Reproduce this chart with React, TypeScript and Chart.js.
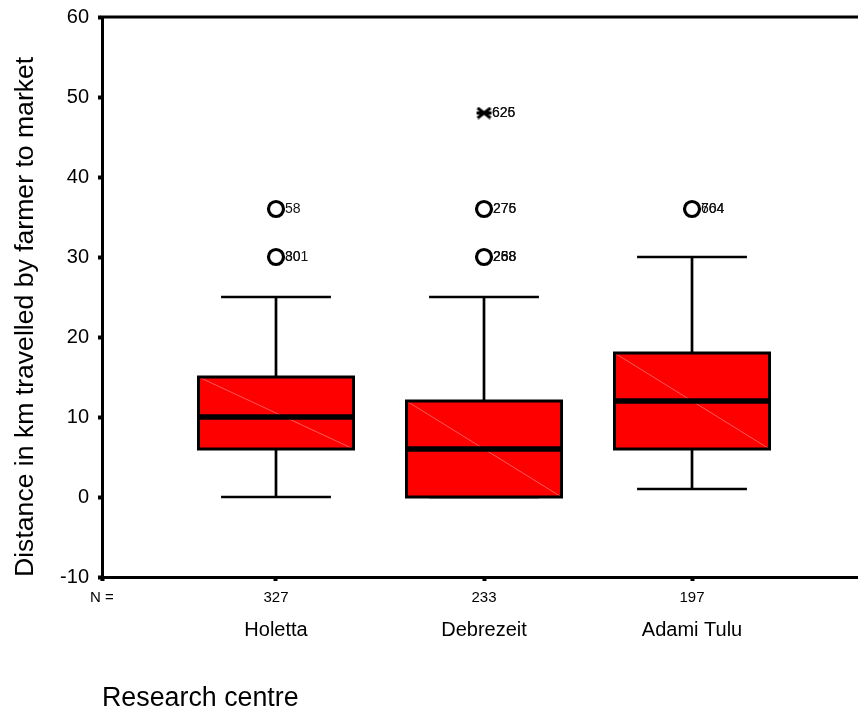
import React, { useEffect, useRef } from "react";
import { Chart, registerables } from "chart.js";

Chart.register(...registerables);

const categories = ["Holetta", "Debrezeit", "Adami Tulu"];
const counts = [327, 233, 197];
const catPos = [1, 2, 3];
const q1 = [6, 0, 6];
const medians = [10, 6, 12];
const q3 = [15, 12, 18];
const whiskerLow = [0, 0, 1];
const whiskerHigh = [25, 25, 30];

const outlierCat = [1, 1, 2, 2, 3];
const outlierVal = [36, 30, 36, 30, 36];
const outlierIds = [["58"], ["301", "80"], ["275", "276"], ["288", "268", "258"], ["664", "704"]];

const extremeCat = [2];
const extremeVal = [48];
const extremeIds = [["626", "625"]];

const yMin = -10;
const yMax = 60;
const yStep = 10;

const FONT = "'Liberation Sans', Arial, Helvetica, sans-serif";

function makeStar(): HTMLCanvasElement {
  const c = document.createElement("canvas");
  c.width = 17;
  c.height = 13;
  const g = c.getContext("2d")!;
  g.strokeStyle = "#000";
  g.lineWidth = 3;
  g.lineCap = "butt";
  g.beginPath();
  g.moveTo(2, 1.5);
  g.lineTo(15, 11.5);
  g.moveTo(2, 11.5);
  g.lineTo(15, 1.5);
  g.moveTo(1, 6.5);
  g.lineTo(16, 6.5);
  g.stroke();
  return c;
}

const boxPlugin = {
  id: "boxPlugin",
  beforeDatasetsDraw(chart: any) {
    const { ctx, scales, chartArea } = chart;
    const x = scales.x;
    const y = scales.y;
    const boxHalf = 0.3726;
    const capHalf = 0.264;
    ctx.save();
    ctx.strokeStyle = "#000";
    ctx.lineWidth = 3;
    ctx.beginPath();
    ctx.moveTo(chartArea.left - 1.5, chartArea.top);
    ctx.lineTo(chartArea.right, chartArea.top);
    ctx.stroke();
    for (let i = 0; i < categories.length; i++) {
      const c = catPos[i];
      const cx = x.getPixelForValue(c);
      const bl = x.getPixelForValue(c - boxHalf);
      const br = x.getPixelForValue(c + boxHalf);
      const cl = x.getPixelForValue(c - capHalf);
      const cr = x.getPixelForValue(c + capHalf);
      const yq1 = y.getPixelForValue(q1[i]);
      const yq3 = y.getPixelForValue(q3[i]);
      const ymed = y.getPixelForValue(medians[i]);
      const ylo = y.getPixelForValue(whiskerLow[i]);
      const yhi = y.getPixelForValue(whiskerHigh[i]);
      ctx.strokeStyle = "#000";
      ctx.lineWidth = 2.7;
      ctx.beginPath();
      ctx.moveTo(cx, yhi);
      ctx.lineTo(cx, yq3);
      ctx.moveTo(cx, ylo);
      ctx.lineTo(cx, yq1);
      ctx.moveTo(cl, yhi);
      ctx.lineTo(cr, yhi);
      ctx.moveTo(cl, ylo);
      ctx.lineTo(cr, ylo);
      ctx.stroke();
      ctx.fillStyle = "#ff0000";
      ctx.fillRect(bl, yq3, br - bl, yq1 - yq3);
      ctx.strokeStyle = "rgba(255,140,140,0.8)";
      ctx.lineWidth = 0.8;
      ctx.beginPath();
      ctx.moveTo(bl, yq3);
      ctx.lineTo(br, yq1);
      ctx.stroke();
      ctx.strokeStyle = "#000";
      ctx.lineWidth = 3;
      ctx.strokeRect(bl, yq3, br - bl, yq1 - yq3);
      ctx.lineWidth = 5.5;
      ctx.beginPath();
      ctx.moveTo(bl, ymed);
      ctx.lineTo(br, ymed);
      ctx.stroke();
    }
    ctx.restore();
  },
  afterDatasetsDraw(chart: any) {
    const { ctx, scales } = chart;
    const x = scales.x;
    const y = scales.y;
    ctx.save();
    ctx.font = `14px ${FONT}`;
    ctx.fillStyle = "#111";
    ctx.textAlign = "left";
    ctx.textBaseline = "middle";
    outlierCat.forEach((c, i) => {
      const px = x.getPixelForValue(c) + 9;
      const py = y.getPixelForValue(outlierVal[i]);
      outlierIds[i].forEach((t) => ctx.fillText(t, px, py));
    });
    extremeCat.forEach((c, i) => {
      const px = x.getPixelForValue(c) + 8;
      const py = y.getPixelForValue(extremeVal[i]);
      extremeIds[i].forEach((t) => ctx.fillText(t, px, py));
    });
    ctx.restore();
  },
};

export default function App() {
  const ref = useRef<HTMLCanvasElement>(null);
  useEffect(() => {
    document.body.style.margin = "0";
    const xMin = 0.1635;
    const xMax = 3.798;
    const chart = new Chart(ref.current!, {
      type: "scatter",
      data: {
        datasets: [
          {
            label: "Outliers",
            data: outlierCat.map((c, i) => ({ x: c, y: outlierVal[i] })),
            pointStyle: "circle",
            pointRadius: 7.5,
            borderWidth: 3.2,
            borderColor: "#000",
            backgroundColor: "rgba(255,255,255,0)",
          },
          {
            label: "Extremes",
            data: extremeCat.map((c, i) => ({ x: c, y: extremeVal[i] })),
            pointStyle: makeStar(),
            pointRadius: 7,
            borderColor: "#000",
            backgroundColor: "#000",
          },
        ],
      },
      options: {
        responsive: false,
        animation: false,
        events: [],
        layout: { autoPadding: false, padding: { top: 17, right: 0, left: 0, bottom: 0 } },
        plugins: {
          legend: { display: false },
          tooltip: { enabled: false },
        },
        scales: {
          y: {
            type: "linear",
            min: yMin,
            max: yMax,
            ticks: {
              stepSize: yStep,
              color: "#000",
              font: { size: 20, family: FONT },
              padding: 9,
            },
            grid: {
              drawOnChartArea: false,
              drawTicks: true,
              tickLength: 4,
              tickWidth: 4,
              tickColor: "#000",
            },
            border: { display: true, color: "#000", width: 3 },
            title: {
              display: true,
              text: "Distance in km travelled by farmer to market",
              align: "start",
              color: "#000",
              font: { size: 26.6, family: FONT },
              padding: { top: 10, bottom: 0 },
            },
            afterFit: (s: any) => {
              s.width = 102;
              s.paddingTop = 0;
              s.paddingBottom = 0;
            },
          },
          x: {
            type: "linear",
            min: xMin,
            max: xMax,
            weight: 0,
            afterBuildTicks: (s: any) => {
              s.ticks = [{ value: xMin }, ...catPos.map((v) => ({ value: v }))];
            },
            ticks: {
              color: "#000",
              font: { size: 15, family: FONT },
              padding: 8,
              maxRotation: 0,
              autoSkip: false,
              callback: (_v: any, idx: number) => (idx === 0 ? "N =" : String(counts[idx - 1])),
            },
            grid: {
              drawOnChartArea: false,
              drawTicks: true,
              tickLength: 4,
              tickWidth: 4,
              tickColor: "#000",
            },
            border: { display: true, color: "#000", width: 3 },
            afterFit: (s: any) => {
              s.height = 30;
              s.paddingLeft = 0;
              s.paddingRight = 0;
            },
          },
          x2: {
            type: "linear",
            position: "bottom",
            min: xMin,
            max: xMax,
            weight: 1,
            afterBuildTicks: (s: any) => {
              s.ticks = catPos.map((v) => ({ value: v }));
            },
            ticks: {
              color: "#000",
              font: { size: 20, family: FONT },
              padding: 11,
              maxRotation: 0,
              autoSkip: false,
              callback: (_v: any, idx: number) => categories[idx],
            },
            grid: { display: false, drawTicks: false },
            border: { display: false },
            title: {
              display: true,
              text: "Research centre",
              align: "start",
              color: "#000",
              font: { size: 26.8, family: FONT },
              padding: { top: 0, bottom: 0 },
            },
            afterFit: (s: any) => {
              s.height = 108;
              s.paddingLeft = 0;
              s.paddingRight = 0;
            },
          },
        },
      } as any,
      plugins: [boxPlugin],
    });
    return () => chart.destroy();
  }, []);
  return (
    <div style={{ width: 858, height: 715 }}>
      <canvas ref={ref} width={858} height={715} style={{ display: "block" }} />
    </div>
  );
}
